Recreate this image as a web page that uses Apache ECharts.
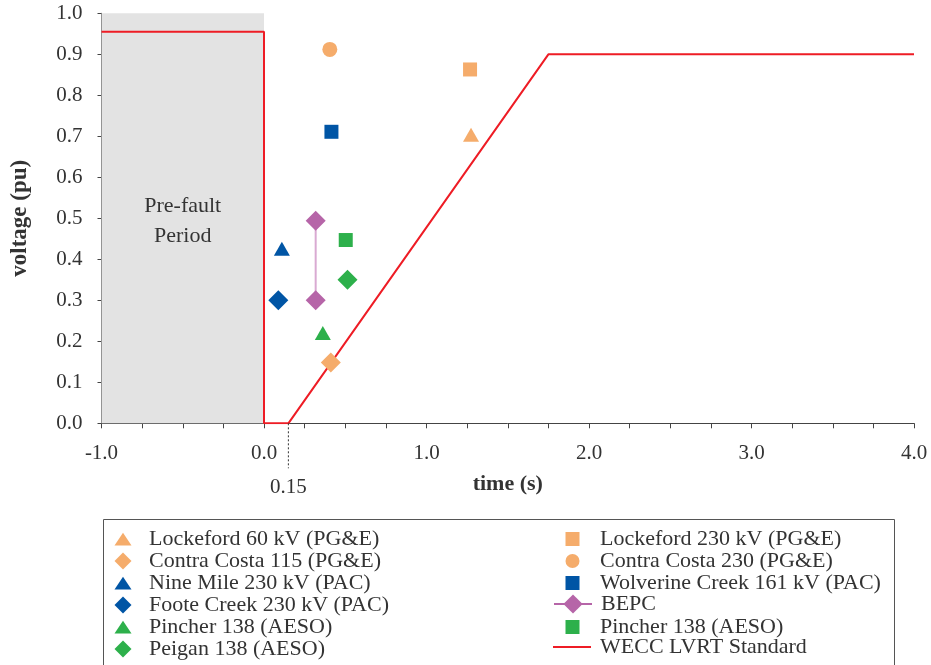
<!DOCTYPE html>
<html>
<head>
<meta charset="utf-8">
<script src="https://cdn.jsdelivr.net/npm/echarts@6/dist/echarts.min.js"></script>
<style>html,body{margin:0;padding:0;background:#fff;}#c{width:931px;height:665px;}</style>
</head>
<body>
<div id="c"></div>
<script>
// ---- data ----
var lockeford60 = [[1.274, 0.704]];
var contraCosta115 = [[0.411, 0.148]];
var nineMile = [[0.110, 0.426]];
var footeCreek = [[0.088, 0.300]];
var pincherTri = [[0.362, 0.220]];
var peigan = [[0.514, 0.350]];
var lockeford230 = [[1.268, 0.863]];
var contraCosta230 = [[0.405, 0.912]];
var wolverine = [[0.415, 0.711]];
var bepc = [[0.318, 0.494], [0.318, 0.300]];
var pincherSq = [[0.503, 0.447]];
var wecc = [[-1, 0.955], [0, 0.955], [0, 0], [0.15, 0], [1.75, 0.9], [4, 0.9]];
var preFault = [-1, 0];
var markTime = 0.15;

var FONT = 'Liberation Serif';
var ORANGE = '#F5AC6B', BLUE = '#0055A5', GREEN = '#2DB04B', PURPLE = '#B665A8', RED = '#EE1C25';
var TRI = 'path://M8,0L16,12L0,12Z';
var DIA = 'path://M10,0L20,10L10,20L0,10Z';

var chart = echarts.init(document.getElementById('c'));

function sc(name, data, symbol, size, color) {
  return { type: 'scatter', name: name, data: data, symbol: symbol, symbolSize: size,
    itemStyle: { color: color, opacity: 1 }, z: 5 };
}

function lg(extra, textPad) {
  var base = {
    orient: 'vertical', padding: 0, itemGap: 0, selectedMode: false, symbolKeepAspect: true,
    textStyle: { fontFamily: FONT, fontSize: 22, color: '#333', lineHeight: 21.7, padding: [0, 0, 0, textPad] }
  };
  return Object.assign(base, extra);
}

var option = {
  animation: false,
  backgroundColor: '#fff',
  grid: { left: 101.5, right: 17, top: 13.3, bottom: 241.7, containLabel: false },
  xAxis: {
    type: 'value', min: -1, max: 4, interval: 0.25,
    name: 'time (s)', nameLocation: 'middle', nameGap: 50,
    nameTextStyle: { fontFamily: FONT, fontSize: 22, fontWeight: 'bold', color: '#333' },
    axisLine: { show: true, onZero: false, lineStyle: { color: '#444', width: 1 } },
    axisTick: { show: true, length: 5, lineStyle: { color: '#444' } },
    splitLine: { show: false },
    axisLabel: {
      margin: 20, fontFamily: FONT, fontSize: 21, color: '#333', showMinLabel: true, showMaxLabel: true,
      formatter: function (v) { return Math.abs(v - Math.round(v)) < 1e-9 ? v.toFixed(1) : ''; }
    }
  },
  yAxis: {
    type: 'value', min: 0, max: 1, interval: 0.1,
    name: 'voltage (pu)', nameLocation: 'middle', nameGap: 70, nameRotate: 90,
    nameTextStyle: { fontFamily: FONT, fontSize: 23, fontWeight: 'bold', color: '#333' },
    axisLine: { show: true, onZero: false, lineStyle: { color: '#444', width: 1 } },
    axisTick: { show: true, length: 4, lineStyle: { color: '#444' } },
    splitLine: { show: false },
    axisLabel: { margin: 19, fontFamily: FONT, fontSize: 21, color: '#333',
      formatter: function (v) { return v.toFixed(1); } }
  },
  legend: [
    lg({ left: 114.5, top: 528, itemWidth: 17, itemHeight: 17, data: [
      { name: 'Lockeford 60 kV (PG&E)', icon: TRI },
      { name: 'Contra Costa 115 (PG&E)', icon: DIA },
      { name: 'Nine Mile 230 kV (PAC)', icon: TRI },
      { name: 'Foote Creek 230 kV (PAC)', icon: DIA },
      { name: 'Pincher 138 (AESO)', icon: TRI },
      { name: 'Peigan 138 (AESO)', icon: DIA }
    ] }, 12.5),
    lg({ left: 565.5, top: 528, itemWidth: 14, itemHeight: 14, data: [
      { name: 'Lockeford 230 kV (PG&E)' },
      { name: 'Contra Costa 230 (PG&E)' },
      { name: 'Wolverine Creek 161 kV (PAC)' }
    ] }, 15.5),
    lg({ left: 553, top: 593, itemWidth: 38, itemHeight: 24, data: [
      { name: 'BEPC', lineStyle: { color: PURPLE, width: 2 } }
    ] }, 4),
    lg({ left: 565.5, top: 616, itemWidth: 14, itemHeight: 14, data: [
      { name: 'Pincher 138 (AESO) ' }
    ] }, 15.5),
    lg({ left: 553, top: 636, itemWidth: 38, itemHeight: 2, data: [
      { name: 'WECC LVRT Standard', icon: 'rect', itemStyle: { color: RED } }
    ] }, 4)
  ],
  series: [
    {
      type: 'line', name: 'WECC LVRT Standard', data: wecc, showSymbol: false, symbol: 'none',
      lineStyle: { color: RED, width: 2 }, itemStyle: { color: RED }, z: 3,
      markArea: {
        silent: true,
        itemStyle: { color: '#E3E3E3' },
        label: { show: true, position: 'inside', formatter: 'Pre-fault\nPeriod', fontFamily: FONT,
          fontSize: 22, color: '#333', lineHeight: 30, offset: [0, 3] },
        data: [[{ xAxis: preFault[0], yAxis: 0 }, { xAxis: preFault[1], yAxis: 1 }]]
      }
    },
    sc('Lockeford 60 kV (PG&E)', lockeford60, 'triangle', [16, 14], ORANGE),
    sc('Contra Costa 115 (PG&E)', contraCosta115, 'diamond', 20, ORANGE),
    sc('Nine Mile 230 kV (PAC)', nineMile, 'triangle', [16, 14], BLUE),
    sc('Foote Creek 230 kV (PAC)', footeCreek, 'diamond', 20, BLUE),
    sc('Pincher 138 (AESO)', pincherTri, 'triangle', [16, 14], GREEN),
    sc('Peigan 138 (AESO)', peigan, 'diamond', 20, GREEN),
    sc('Lockeford 230 kV (PG&E)', lockeford230, 'rect', 14, ORANGE),
    sc('Contra Costa 230 (PG&E)', contraCosta230, 'circle', 15, ORANGE),
    sc('Wolverine Creek 161 kV (PAC)', wolverine, 'rect', 14, BLUE),
    {
      type: 'line', name: 'BEPC', data: bepc, symbol: 'diamond', symbolSize: 20, showSymbol: true,
      lineStyle: { color: '#D9AAD2', width: 2 }, itemStyle: { color: PURPLE }, z: 5
    },
    sc('Pincher 138 (AESO) ', pincherSq, 'rect', 14, GREEN)
  ]
};
chart.setOption(option);

var p = chart.convertToPixel({ gridIndex: 0 }, [markTime, 0]);
chart.setOption({
  graphic: [
    { type: 'rect', shape: { x: 103.5, y: 519.5, width: 791, height: 200 },
      style: { fill: 'none', stroke: '#555', lineWidth: 1 }, z: 0 },
    { type: 'line', shape: { x1: p[0], y1: p[1], x2: p[0], y2: p[1] + 45 },
      style: { stroke: '#333', lineWidth: 1, lineDash: [2, 2] }, z: 10 },
    { type: 'text', x: p[0], y: p[1] + 64,
      style: { text: '0.15', fontFamily: FONT, fontSize: 21, fill: '#333', align: 'center', verticalAlign: 'middle' } }
  ]
});
</script>
</body>
</html>
